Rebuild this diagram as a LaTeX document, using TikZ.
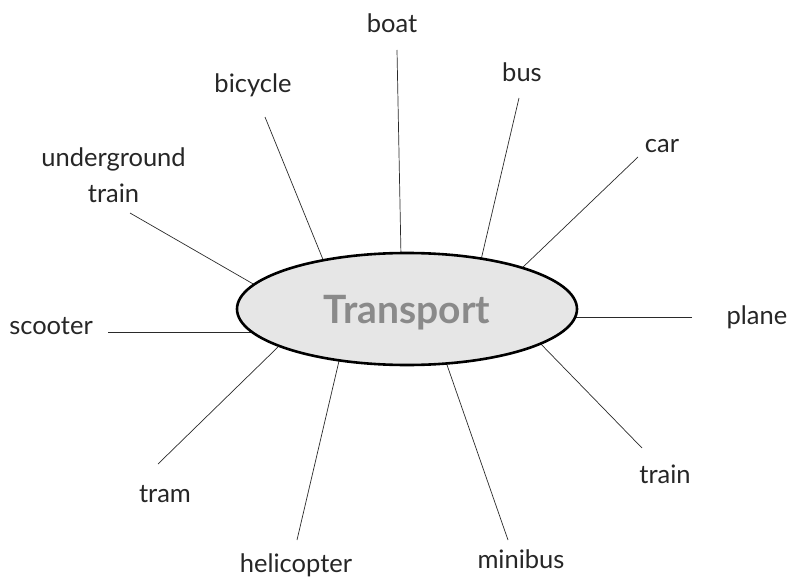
\documentclass[tikz,border=0pt]{standalone}
\usepackage{fontspec}
\setmainfont{Lato}
\usetikzlibrary{shapes.geometric}
\definecolor{ellfill}{HTML}{E6E6E6}
\definecolor{titlegray}{HTML}{8A8A8A}
\definecolor{linegray}{HTML}{2A2A2A}
\begin{document}
\begin{tikzpicture}[x=1pt,y=-1pt,
  lbl/.style={anchor=base,font=\fontsize{25.5}{36}\selectfont,text=black!85,inner sep=0pt},
  spoke/.style={draw=linegray,line width=0.7pt},
  hub/.style={ellipse,draw=black,line width=2.6pt,fill=ellfill,minimum width=340pt,minimum height=112pt,inner sep=0pt}]
\useasboundingbox (0,0) rectangle (788,578);
% labels
\node[lbl] (boat) at (392,33) {boat};
\node[lbl] (bus) at (522,82) {bus};
\node[lbl] (car) at (662,152) {car};
\node[lbl] (plane) at (757,324) {plane};
\node[lbl] (train) at (665,483) {train};
\node[lbl] (minibus) at (521,568) {minibus};
\node[lbl] (helicopter) at (296,572) {helicopter};
\node[lbl] (tram) at (165,502) {tram};
\node[lbl] (scooter) at (51,334) {scooter};
\node[lbl,align=center] (underground) at (113.5,202) {underground\\train};
\node[lbl] (bicycle) at (253,93) {bicycle};
% outer line ends
\coordinate (boat-o) at (397,50);
\coordinate (bus-o) at (519,98);
\coordinate (car-o) at (638,157);
\coordinate (plane-o) at (692,317);
\coordinate (train-o) at (642,448);
\coordinate (minibus-o) at (508,540);
\coordinate (helicopter-o) at (297,540);
\coordinate (tram-o) at (158,464);
\coordinate (scooter-o) at (108,332);
\coordinate (underground-o) at (130,213);
\coordinate (bicycle-o) at (265,117);
% inner line ends (on the ellipse)
\coordinate (boat-i) at (401,256);
\coordinate (bus-i) at (481,260);
\coordinate (car-i) at (521,269);
\coordinate (plane-i) at (572,317);
\coordinate (train-i) at (536,339);
\coordinate (minibus-i) at (446,362);
\coordinate (helicopter-i) at (339,361);
\coordinate (tram-i) at (278,347);
\coordinate (scooter-i) at (252,332);
\coordinate (underground-i) at (255,285);
\coordinate (bicycle-i) at (324,262);
\foreach \n in {boat,bus,car,plane,train,minibus,helicopter,tram,scooter,underground,bicycle}
  \draw[spoke] (\n-o) -- (\n-i);
\node[hub] (T) at (407,309) {};
\node[font=\fontsize{39}{42}\selectfont\bfseries,text=titlegray,anchor=base] (title) at (407,323) {Transport};
\end{tikzpicture}
\end{document}
